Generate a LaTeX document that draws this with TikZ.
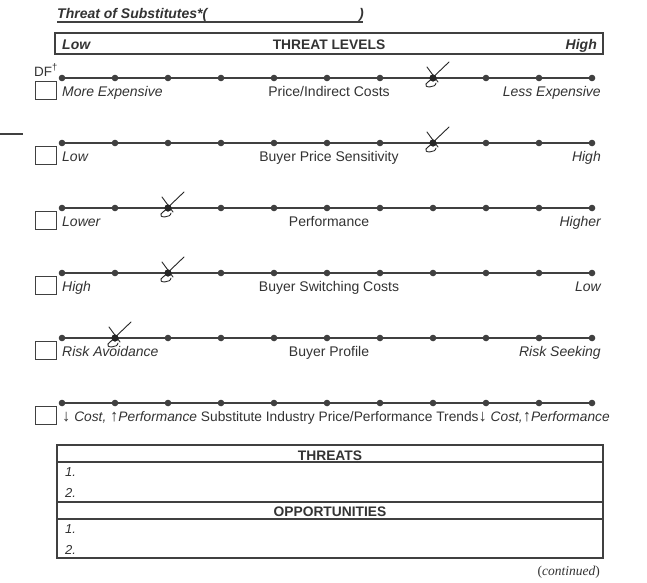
\documentclass[tikz,border=0pt]{standalone}
\usepackage{fontspec}
\setmainfont{Liberation Sans}
\newfontfamily\contfont{Liberation Serif}
\definecolor{inkc}{HTML}{404040}
\definecolor{txtc}{HTML}{333333}
\definecolor{pencilc}{HTML}{262626}
\newcommand\arrowglyph[1]{{\fontsize{16.5}{16}\selectfont #1}}
\tikzset{
  scaleline/.style={draw=inkc, line width=1.4pt},
  dot/.style={circle, fill=inkc, inner sep=0pt, minimum size=6.6pt},
  lab/.style={inner sep=0pt, text=txtc, font=\fontsize{14}{16}\selectfont},
  ilab/.style={lab, font=\fontsize{14}{16}\selectfont\itshape},
  blab/.style={lab, font=\fontsize{13.8}{16}\selectfont\bfseries},
  numlab/.style={lab, font=\fontsize{13}{15}\selectfont\itshape},
  cbox/.style={draw=inkc, line width=1.2pt, inner sep=0pt, minimum width=21pt, minimum height=18pt},
  frame/.style={draw=inkc, line width=1.6pt},
  heavy/.style={draw=inkc, line width=2pt},
  stroke/.style={draw=pencilc, line width=0.9pt, line cap=round},
  checkmark/.pic={
    \fill[pencilc] (0,0) circle (3.6);
    \draw[stroke] (-6,-11) -- (5,4);
    \draw[stroke] (-7,6) -- (16,-16);
    \draw[stroke] (-7,6) .. controls (-10,10) and (3,10) .. (3,5);
  }
}
\begin{document}
\begin{tikzpicture}[x=1pt,y=-1pt]
\useasboundingbox[fill=white] (0,0) rectangle (647,582);

% title with its fill-in line
\node[lab, font=\fontsize{14}{16}\selectfont\bfseries\itshape, anchor=base west] (title) at (57,18) {Threat of Substitutes*(};
\node[lab, font=\fontsize{14}{16}\selectfont\bfseries\itshape, anchor=base west] (close) at (359,18) {)};
\draw[inkc, line width=1.4pt] (57,22) -- (363,22);

% threat level header bar
\draw[heavy] (55,33) rectangle (603,54);
\node[lab, font=\fontsize{14}{16}\selectfont\bfseries\itshape, anchor=base west] (lvlow) at (62,49) {Low};
\node[blab, anchor=base] (lvtitle) at (329,49) {THREAT LEVELS};
\node[lab, font=\fontsize{14}{16}\selectfont\bfseries\itshape, anchor=base east] (lvhigh) at (597,49) {High};

\node[lab, font=\fontsize{13.5}{15}\selectfont, anchor=base west] (df) at (34,76) {DF\textsuperscript{†}};

% short margin rule
\draw[inkc, line width=1.4pt] (0,134) -- (23,134);

% rating scales: eleven points each, with a check box
\foreach \r/\yy in {1/78,2/143,3/208,4/273,5/338,6/403}{
  \foreach \k in {1,...,11}{
    \node[dot] (r\r-\k) at ({62+53*(\k-1)},\yy) {};
  }
  \draw[scaleline] (r\r-1.center) -- (r\r-11.center);
  \node[cbox, anchor=north west] (box\r) at (35,{\yy+3}) {};
}

% scale labels
\node[ilab, anchor=base west] (l1) at (62,96.5) {More Expensive};
\node[lab, anchor=base] (m1) at (329,96.5) {Price/Indirect Costs};
\node[ilab, anchor=base east] (h1) at (601,96.5) {Less Expensive};

\node[ilab, anchor=base west] (l2) at (62,161.5) {Low};
\node[lab, anchor=base] (m2) at (329,161.5) {Buyer Price Sensitivity};
\node[ilab, anchor=base east] (h2) at (601,161.5) {High};

\node[ilab, anchor=base west] (l3) at (62,226.5) {Lower};
\node[lab, anchor=base] (m3) at (329,226.5) {Performance};
\node[ilab, anchor=base east] (h3) at (601,226.5) {Higher};

\node[ilab, anchor=base west] (l4) at (62,291.5) {High};
\node[lab, anchor=base] (m4) at (329,291.5) {Buyer Switching Costs};
\node[ilab, anchor=base east] (h4) at (601,291.5) {Low};

\node[ilab, anchor=base west] (l5) at (62,356.5) {Risk Avoidance};
\node[lab, anchor=base] (m5) at (329,356.5) {Buyer Profile};
\node[ilab, anchor=base east] (h5) at (601,356.5) {Risk Seeking};

% trends scale: one continuous line of text
\node[lab, font=\fontsize{13.75}{16}\selectfont, anchor=base west] (l6) at (62,421.5) {\arrowglyph{↓} \textit{Cost,} \arrowglyph{↑}\textit{Performance} Substitute Industry Price/Performance Trends\arrowglyph{↓} \textit{Cost,}\arrowglyph{↑}\textit{Performance}};

% pencil marks
\pic at (r1-8) {checkmark};
\pic at (r2-8) {checkmark};
\pic at (r3-3) {checkmark};
\pic at (r4-3) {checkmark};
\pic at (r5-2) {checkmark};

% threats and opportunities table
\draw[frame] (57,445) rectangle (603,558);
\draw[heavy] (57,445) -- (603,445);
\draw[heavy] (57,462) -- (603,462);
\draw[heavy] (57,502) -- (603,502);
\draw[heavy] (57,519) -- (603,519);
\node[blab, anchor=base] (threats) at (330,460) {THREATS};
\node[numlab, anchor=base west] (t1) at (65,476.5) {1.};
\node[numlab, anchor=base west] (t2) at (65,497.5) {2.};
\node[blab, anchor=base] (opps) at (330,516.5) {OPPORTUNITIES};
\node[numlab, anchor=base west] (o1) at (65,533) {1.};
\node[numlab, anchor=base west] (o2) at (65,554.5) {2.};

\node[inner sep=0pt, text=txtc, font=\fontsize{13.5}{15}\contfont, anchor=base east] (cont) at (600,575) {(\textit{continued})};
\end{tikzpicture}
\end{document}
